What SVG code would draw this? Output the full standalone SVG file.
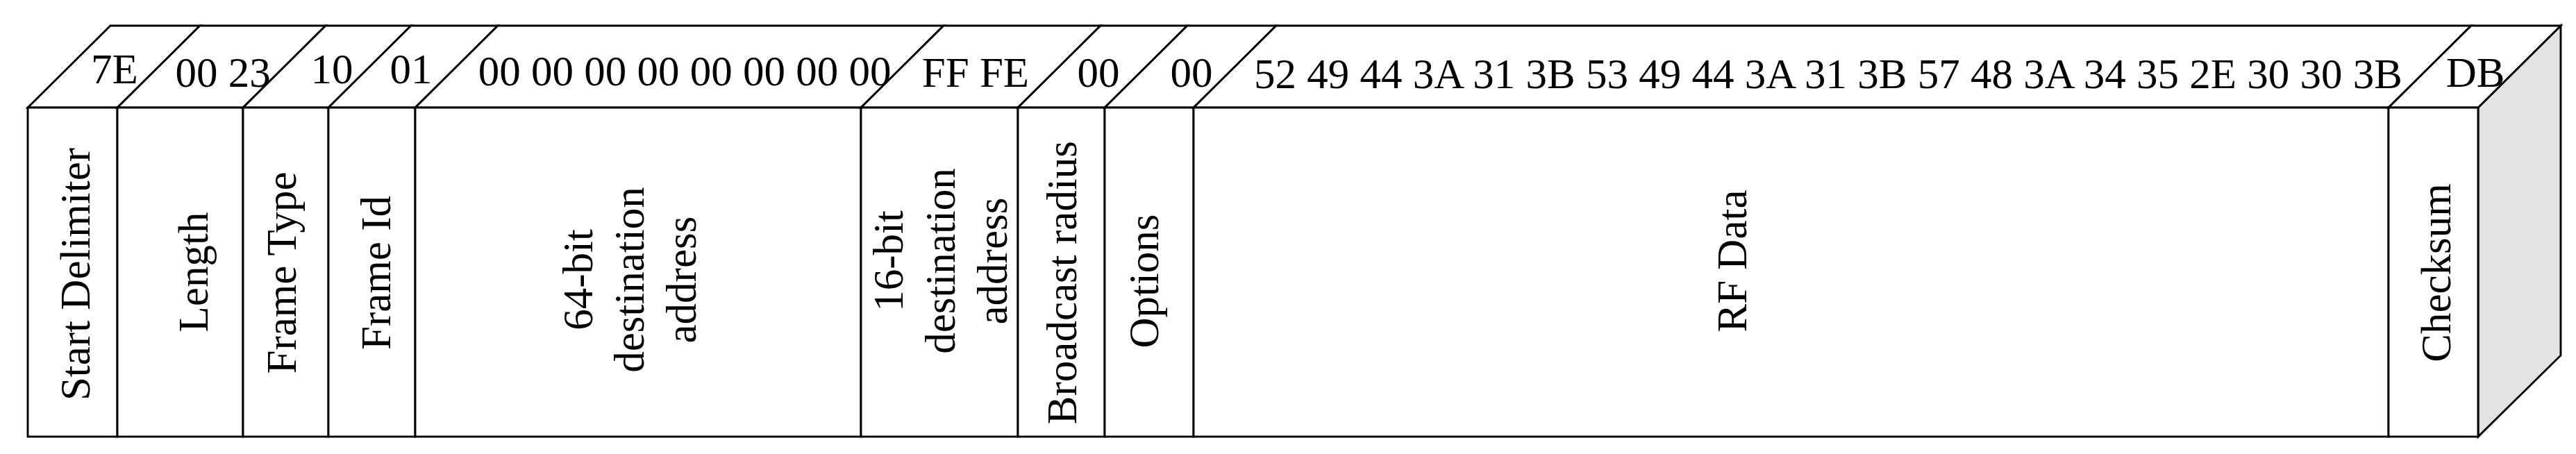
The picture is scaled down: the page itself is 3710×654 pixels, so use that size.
<svg xmlns="http://www.w3.org/2000/svg" width="3710" height="654" viewBox="0 0 3710 654">
<style>
.f{fill:#fff;stroke:#000;stroke-width:2.9;stroke-linejoin:miter}
.s{fill:#e3e3e3;stroke:#000;stroke-width:2.9}
.t{font-family:"Liberation Serif","Times New Roman",serif;font-size:61px;fill:#000;text-anchor:middle}
</style>
<rect width="3710" height="654" fill="#fff"/>
<g id="start-delimiter">
<polygon class="f" points="40,155 159,37 288,37 169,155"/>
<rect class="f" x="40" y="155" width="129" height="474"/>
<text class="t" x="165" y="120">7E</text>
<text class="t" transform="translate(129,395) rotate(-90)">Start Delimiter</text>
</g>
<g id="length">
<polygon class="f" points="169,155 288,37 469,37 350,155"/>
<rect class="f" x="169" y="155" width="181" height="474"/>
<text class="t" x="321" y="125">00 23</text>
<text class="t" transform="translate(299,392) rotate(-90)">Length</text>
</g>
<g id="frame-type">
<polygon class="f" points="350,155 469,37 592,37 473,155"/>
<rect class="f" x="350" y="155" width="123" height="474"/>
<text class="t" x="478" y="120">10</text>
<text class="t" transform="translate(426,393) rotate(-90)">Frame Type</text>
</g>
<g id="frame-id">
<polygon class="f" points="473,155 592,37 717,37 598,155"/>
<rect class="f" x="473" y="155" width="125" height="474"/>
<text class="t" x="592" y="120">01</text>
<text class="t" transform="translate(562,393) rotate(-90)">Frame Id</text>
</g>
<g id="dest64">
<polygon class="f" points="598,155 717,37 1359,37 1240,155"/>
<rect class="f" x="598" y="155" width="642" height="474"/>
<text class="t" x="986" y="123">00 00 00 00 00 00 00 00</text>
<text class="t" transform="translate(853,403) rotate(-90)">64-bit</text>
<text class="t" transform="translate(927,403) rotate(-90)">destination</text>
<text class="t" transform="translate(1002,403) rotate(-90)">address</text>
</g>
<g id="dest16">
<polygon class="f" points="1240,155 1359,37 1585,37 1466,155"/>
<rect class="f" x="1240" y="155" width="226" height="474"/>
<text class="t" x="1405" y="125">FF FE</text>
<text class="t" transform="translate(1300,376) rotate(-90)">16-bit</text>
<text class="t" transform="translate(1375,376) rotate(-90)">destination</text>
<text class="t" transform="translate(1450,376) rotate(-90)">address</text>
</g>
<g id="broadcast-radius">
<polygon class="f" points="1466,155 1585,37 1710,37 1591,155"/>
<rect class="f" x="1466" y="155" width="125" height="474"/>
<text class="t" x="1582" y="125">00</text>
<text class="t" transform="translate(1550,407) rotate(-90)">Broadcast radius</text>
</g>
<g id="options">
<polygon class="f" points="1591,155 1710,37 1838,37 1719,155"/>
<rect class="f" x="1591" y="155" width="128" height="474"/>
<text class="t" x="1716" y="125">00</text>
<text class="t" transform="translate(1668,405) rotate(-90)">Options</text>
</g>
<g id="rf-data">
<polygon class="f" points="1719,155 1838,37 3559,37 3440,155"/>
<rect class="f" x="1719" y="155" width="1721" height="474"/>
<text class="t" x="2633" y="127">52 49 44 3A 31 3B 53 49 44 3A 31 3B 57 48 3A 34 35 2E 30 30 3B</text>
<text class="t" transform="translate(2515,376) rotate(-90)">RF Data</text>
</g>
<g id="checksum">
<polygon class="s" points="3569,155 3688,37 3688,512 3569,629"/>
<polygon class="f" points="3440,155 3559,37 3688,37 3569,155"/>
<rect class="f" x="3440" y="155" width="129" height="474"/>
<text class="t" x="3565" y="125">DB</text>
<text class="t" transform="translate(3529,393) rotate(-90)">Checksum</text>
</g>
<g id="connectors"/>
</svg>
